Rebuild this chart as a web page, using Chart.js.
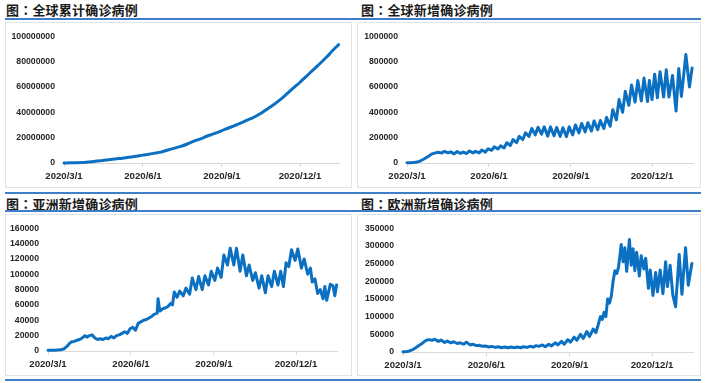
<!DOCTYPE html>
<html><head><meta charset="utf-8">
<script src="https://cdn.jsdelivr.net/npm/chart.js@4.4.0/dist/chart.umd.min.js"></script>
<style>
body{margin:0;width:709px;height:383px;background:#fff;position:relative;overflow:hidden;font-family:"Noto Sans CJK SC",sans-serif}
.t{position:absolute;font-weight:bold;font-size:13px;color:#1a1a1a;line-height:14px;white-space:nowrap;letter-spacing:0.2px}
.t span{font-family:"Noto Sans CJK TC","Noto Sans CJK JP",sans-serif}
.bl{position:absolute;height:2px;background:#3f7fc8;left:5px;width:696px}
.box{position:absolute;border:1px solid #e3e3e3;box-sizing:border-box}
canvas{position:absolute}
</style></head><body>
<div class="t" style="left:6px;top:3px">图<span>：</span>全球累计确诊病例</div>
<div class="t" style="left:361px;top:3px">图<span>：</span>全球新增确诊病例</div>
<div class="t" style="left:6px;top:197px">图<span>：</span>亚洲新增确诊病例</div>
<div class="t" style="left:361px;top:197px">图<span>：</span>欧洲新增确诊病例</div>
<div class="bl" style="top:18px"></div>
<div class="bl" style="top:192px"></div>
<div class="bl" style="top:210px"></div>
<div class="bl" style="top:379px"></div>
<div class="box" style="left:5px;top:22px;width:347px;height:166px"></div>
<div class="box" style="left:357px;top:22px;width:344px;height:166px"></div>
<div class="box" style="left:5px;top:214px;width:347px;height:162px"></div>
<div class="box" style="left:357px;top:214px;width:344px;height:162px"></div>
<canvas id="c1" width="352" height="166" style="left:0;top:22px"></canvas>
<canvas id="c2" width="355" height="166" style="left:354px;top:22px"></canvas>
<canvas id="c3" width="352" height="162" style="left:0;top:214px"></canvas>
<canvas id="c4" width="355" height="162" style="left:354px;top:214px"></canvas>
<script>
// x axis: days since 2020/3/1
const tickDays = [0, 92, 184, 275];
const tickLabels = ['2020/3/1', '2020/6/1', '2020/9/1', '2020/12/1'];

// Global cumulative confirmed (millions)
const cumDays = [0,7,14,21,28,31,35,38,45,52,61,68,75,82,92,99,106,113,122,129,136,143,153,160,167,174,184,191,198,205,214,221,228,235,245,252,259,266,275,282,289,296,306,313,320];
const cumVals = [0.09,0.11,0.17,0.34,0.72,0.93,1.2,1.5,2.0,2.6,3.3,3.8,4.5,5.1,6.2,6.9,7.8,8.6,10.5,11.7,13.1,14.8,17.6,19.3,21.3,22.9,25.6,27.4,29.3,31.2,34.0,36.0,38.6,41.8,46.4,50.0,54.1,58.4,63.7,68.2,72.6,77.0,83.6,88.7,93.4];

// Global daily new (thousands)
const gloDays = [0,4,7,11,14,18,21,25,28,32,35,39,42,46,49,53,56,60,63,67,70,74,77,81,84,88,91,95,98,102,105,109,112,116,119,123,126,130,133,137,140,144,147,151,154,158,161,165,168,172,175,179,182,186,189,193,196,200,203,207,210,214,217,221,224,228,231,235,238,242,245,249,252,256,259,263,266,270,272,275,278,281,284,288,291,294,298,302,305,308,313,317,320];
const gloVals = [2,2,3,8,13,28,40,58,72,80,85,78,92,80,88,72,90,76,86,75,95,80,92,80,102,86,112,100,128,110,135,118,160,138,185,160,210,185,238,210,272,222,282,228,285,212,285,215,280,210,278,208,285,222,300,238,312,245,318,252,332,262,335,272,360,290,420,340,500,400,565,455,615,480,650,490,670,485,650,500,700,515,720,520,735,520,690,410,745,525,855,600,750];

// Asia daily new (thousands)
const asiaDays = [0,7,14,18,21,24,26,29,32,35,38,41,43,46,49,52,55,58,61,64,67,70,73,76,79,82,85,88,91,94,97,100,103,106,109,112,115,118,121,122,124,127,130,133,136,138,140,143,146,150,153,157,160,164,167,171,174,178,181,185,188,192,195,199,202,206,209,213,216,220,223,227,230,234,237,241,244,248,251,255,258,261,264,267,270,274,277,281,284,288,291,293,296,299,302,305,307,309,313,316,318,320];
const asiaVals = [1,1,1.5,3,6,10,12,12.5,14,15,17,20,18,20,21,17,15,16,15,17,16,19,17,20,21,23,25,23,29,31,27,36,38,40,41,43,45,48,49,68,52,55,56,58,62,60,77,70,78,72,82,74,95,80,97,80,98,86,104,92,108,96,125,112,134,112,134,104,125,98,112,92,102,82,98,76,98,84,104,86,104,84,115,110,132,118,133,108,120,100,108,90,94,75,80,68,84,66,87,85,72,86];

// Europe daily new (thousands)
const euDays = [0,4,7,11,14,18,21,25,28,32,35,39,42,46,49,53,56,60,63,67,70,74,77,81,84,88,91,95,98,102,105,109,112,116,119,123,126,130,133,137,140,144,147,150,154,157,161,164,168,171,175,178,182,185,189,192,196,199,203,206,210,213,215,218,220,222,224,226,228,230,232,234,236,238,241,243,245,247,250,252,254,256,258,261,263,266,268,271,273,276,279,281,284,287,290,292,295,298,301,305,308,312,315,319];
const euVals = [0.5,1,3,7,12,19,24,32,35,33,36,30,34,27,31,26,29,24,26,22,28,20,22,18,19,16,17,14,16,13,15,12,14,12,14,12,14,12,15,13,16,14,18,16,20,15,22,17,26,20,30,22,35,28,42,33,50,38,58,44,65,55,72,100,92,112,100,150,138,158,200,230,222,240,304,255,295,228,318,245,292,230,282,215,272,235,265,180,232,160,225,170,232,165,255,185,245,160,128,276,163,295,189,250];

const panels = [
  {id:'c1', days:cumDays, vals:cumVals, unit:1e6, yMax:100000000, yStep:20000000, L:64, R:339.5, T:11, B:141, tension:0.4},
  {id:'c2', days:gloDays, vals:gloVals, unit:1e3, yMax:1000000, yStep:200000, L:53, R:339, T:12, B:141, tension:0},
  {id:'c3', days:asiaDays, vals:asiaVals, unit:1e3, yMax:160000, yStep:20000, L:48, R:337.5, T:11, B:137, tension:0},
  {id:'c4', days:euDays, vals:euVals, unit:1e3, yMax:350000, yStep:50000, L:49, R:339.7, T:11, B:138, tension:0}
];
const xMax = 321;
const textColor = '#262626';

panels.forEach(p => {
  const cv = document.getElementById(p.id);
  const W = cv.width, H = cv.height, XH = 20;
  new Chart(cv, {
    type: 'line',
    data: { datasets: [{
      data: p.days.map((d, i) => ({x: d, y: p.vals[i] * p.unit})),
      borderColor: '#0B70C2', borderWidth: 3, pointRadius: 0,
      tension: p.tension, clip: 6, borderJoinStyle: 'round', borderCapStyle: 'round'
    }]},
    options: {
      responsive: false, animation: false, devicePixelRatio: 1,
      layout: { padding: { left: 0, top: p.T, right: W - p.R, bottom: H - p.B - XH } },
      plugins: { legend: {display: false}, tooltip: {enabled: false} },
      scales: {
        x: {
          type: 'linear', min: 0, max: xMax,
          afterBuildTicks: s => { s.ticks = tickDays.map(v => ({value: v})); },
          afterFit: s => { s.height = XH; },
          grid: { display: true, drawOnChartArea: false, drawTicks: true, tickLength: 4, color: '#d9d9d9' },
          border: { display: true, color: '#d9d9d9', width: 1 },
          ticks: { autoSkip: false, maxRotation: 0, padding: 4, color: textColor,
            font: { family: 'Liberation Sans', size: 9.6, weight: 'bold' },
            callback: (v, i) => tickLabels[i] }
        },
        y: {
          min: 0, max: p.yMax,
          afterFit: s => { s.width = p.L; },
          grid: { display: false, drawTicks: false },
          border: { display: false },
          ticks: { stepSize: p.yStep, padding: 9, color: textColor,
            font: { family: 'Liberation Sans', size: 8.7, weight: 'bold' },
            callback: v => String(v) }
        }
      }
    }
  });
});
</script>
</body></html>
